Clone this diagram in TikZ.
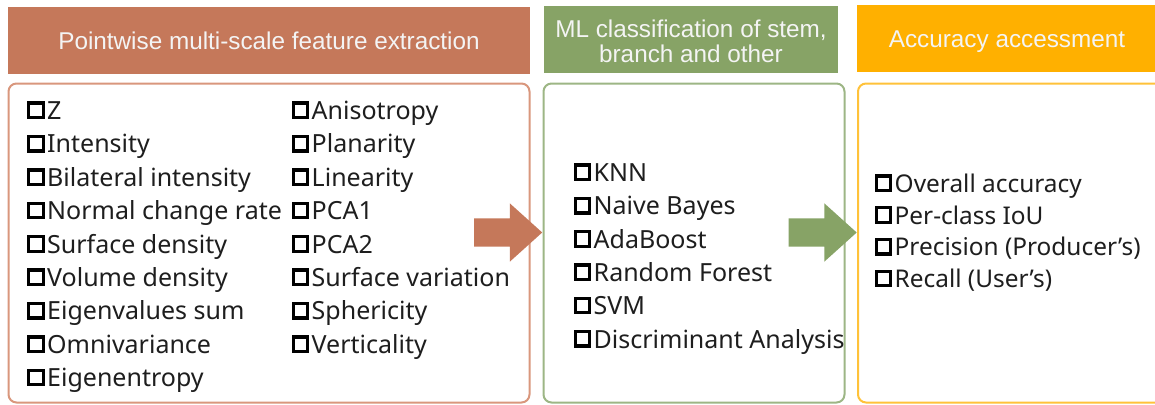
\documentclass[tikz,border=0pt]{standalone}
\usepackage{fontspec}
\setmainfont{Liberation Sans}
\newfontfamily\listfont{Noto Sans}
\usetikzlibrary{shapes.arrows}
\definecolor{hdrA}{HTML}{C5785A}
\definecolor{bdrA}{HTML}{D9977D}
\definecolor{hdrB}{HTML}{87A366}
\definecolor{bdrB}{HTML}{9DB685}
\definecolor{hdrC}{HTML}{FFB000}
\definecolor{bdrC}{HTML}{FFC23A}
\definecolor{hdrtext}{HTML}{F4F4F4}
\definecolor{itemtext}{HTML}{1E1E1E}
\tikzset{
  hdr/.style={fill=#1, draw=none, inner sep=0pt},
  htext/.style={inner sep=0pt, align=center, text=hdrtext,
    font=\fontsize{24.3}{25.5}\selectfont},
  panel/.style={draw=#1, line width=2pt, rounded corners=8pt, fill=white, inner sep=0pt},
  item/.style={anchor=base west, inner sep=0pt, text=itemtext,
    font=\listfont\fontsize{25}{30}\selectfont},
  itemsm/.style={item, font=\listfont\fontsize{24.4}{30}\selectfont},
  cbox/.style={draw=black, line width=3.3pt},
  flow/.style={single arrow, fill=#1, draw=none, inner sep=0pt, inner ysep=14pt,
    single arrow head extend=15pt, single arrow tip angle=84, minimum height=68pt, anchor=tip},
}
% #1 style, #2 name, #3 x of checkbox, #4 baseline y, #5 text
\newcommand\itm[5]{%
  \node[#1] (#2) at (#3+19.5,#4) {#5};
  \draw[cbox] ([xshift=-18.2pt,yshift=1.9pt]#2.base west) rectangle ++(14.5pt,14.5pt);}
\begin{document}
\begin{tikzpicture}[x=1pt,y=-1pt]
\useasboundingbox (0,0) rectangle (1155,404);
% headers
\node[hdr=hdrA, minimum width=522pt, minimum height=66pt] (h1) at (269,40.5) {};
\node[hdr=hdrB, minimum width=294pt, minimum height=66pt] (h2) at (691,39.5) {};
\node[hdr=hdrC, minimum width=300pt, minimum height=66pt] (h3) at (1007,38.5) {};
\node[htext] (t1) at (269,41) {Pointwise multi-scale feature extraction};
\node[htext] (t2) at (691,41.5) {ML classification of stem,\\branch and other};
\node[htext] (t3) at (1007,41.5) {Accuracy accessment};
% panels
\node[panel=bdrA, minimum width=521pt, minimum height=319pt] (p1) at (269,243) {};
\node[panel=bdrB, minimum width=301pt, minimum height=319pt] (p2) at (694,243) {};
\node[panel=bdrC, minimum width=310pt, minimum height=319pt] (p3) at (1013,243) {};
% arrows
\coordinate (ay) at (0,232.5);
\node[flow=hdrA] (a1) at (p2.west |- ay) {};
\node[flow=hdrB] (a2) at (p3.west |- ay) {};
% column 1
\itm{item}{f1}{27.5}{119.5}{Z}
\itm{item}{f2}{27.5}{152.9}{Intensity}
\itm{item}{f3}{27.5}{186.3}{Bilateral intensity}
\itm{item}{f4}{27.5}{219.7}{Normal change rate}
\itm{item}{f5}{27.5}{253.1}{Surface density}
\itm{item}{f6}{27.5}{286.5}{Volume density}
\itm{item}{f7}{27.5}{319.9}{Eigenvalues sum}
\itm{item}{f8}{27.5}{353.3}{Omnivariance}
\itm{item}{f9}{27.5}{386.7}{Eigenentropy}
% column 2
\itm{item}{g1}{292}{119.5}{Anisotropy}
\itm{item}{g2}{292}{152.9}{Planarity}
\itm{item}{g3}{292}{186.3}{Linearity}
\itm{item}{g4}{292}{219.7}{PCA1}
\itm{item}{g5}{292}{253.1}{PCA2}
\itm{item}{g6}{292}{286.5}{Surface variation}
\itm{item}{g7}{292}{319.9}{Sphericity}
\itm{item}{g8}{292}{353.3}{Verticality}
% classifiers
\itm{item}{c1}{574}{181.5}{KNN}
\itm{item}{c2}{574}{214.8}{Naive Bayes}
\itm{item}{c3}{574}{248.1}{AdaBoost}
\itm{item}{c4}{574}{281.4}{Random Forest}
\itm{item}{c5}{574}{314.7}{SVM}
\itm{item}{c6}{574}{348.0}{Discriminant Analysis}
% accuracy
\itm{itemsm}{m1}{875}{192.5}{Overall accuracy}
\itm{itemsm}{m2}{875}{224.2}{Per-class IoU}
\itm{itemsm}{m3}{875}{255.9}{Precision (Producer’s)}
\itm{itemsm}{m4}{875}{287.6}{Recall (User’s)}
\end{tikzpicture}
\end{document}
